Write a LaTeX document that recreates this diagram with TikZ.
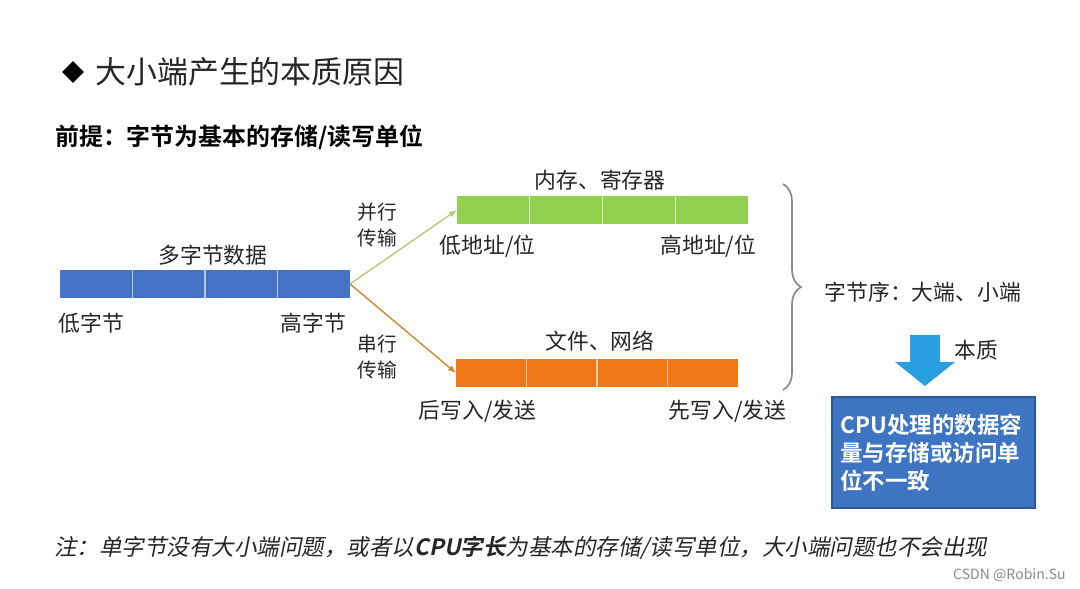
\documentclass[tikz,border=0pt]{standalone}
\usepackage{fontspec}
\setmainfont{Noto Sans CJK SC}[BoldFont={Noto Sans CJK SC Bold}]
\newfontfamily\notefont{Noto Sans CJK SC}[FakeSlant=0.2,BoldFont={Noto Sans CJK SC Bold},BoldFeatures={FakeSlant=0.2}]
\usetikzlibrary{arrows.meta,positioning,shapes.geometric,decorations.pathreplacing}
\definecolor{EndianBlue}{HTML}{4472C4}
\definecolor{EndianGreen}{HTML}{92D050}
\definecolor{EndianOrange}{HTML}{F07818}
\definecolor{EndianSky}{HTML}{2A9FE0}
\definecolor{EndianBox}{HTML}{3E75C2}
\definecolor{EndianText}{HTML}{262626}
\definecolor{EndianGray}{HTML}{8A8A8A}
\definecolor{GreenLink}{HTML}{B4CB78}
\definecolor{OrangeLink}{HTML}{D08A2E}
\tikzset{
  >=Latex,
  cell/.style={minimum height=0.7cm,inner sep=0pt,outer sep=0pt},
  bluecell/.style={cell,minimum width=1.8125cm,fill=EndianBlue},
  greencell/.style={cell,minimum width=1.819cm,fill=EndianGreen},
  orangecell/.style={cell,minimum width=1.7625cm,fill=EndianOrange},
  divider/.style={line width=1pt},
  txt/.style={font=\fontsize{15.5}{18}\selectfont,text=EndianText,inner sep=1pt},
  sidetxt/.style={font=\fontsize{14}{18.5}\selectfont,text=EndianText,align=center,inner sep=1pt},
  link/.style={-{Latex[length=2mm,width=1.6mm]},line width=1pt},
  essbox/.style={fill=EndianBox,draw=EndianBox!75!black,line width=0.8pt,minimum width=5.075cm,
    minimum height=2.775cm,text width=4.65cm,align=left,text=white,
    font=\fontsize{16}{20}\selectfont\bfseries},
  notetxt/.style={font=\notefont\fontsize{16}{20}\selectfont,text=EndianText,inner sep=0pt}
}
\begin{document}
\begin{tikzpicture}[x=0.025cm,y=-0.025cm]
  \useasboundingbox[fill=white] (0,0) rectangle (1080,589);

  % title
  \node[diamond,fill=black,inner sep=0pt,minimum size=0.55cm] (bullet) at (73,72) {};
  \node[anchor=west,font=\fontsize{22}{26}\selectfont,text=EndianText,inner sep=0pt] (title) at (95,72) {大小端产生的本质原因};
  \node[anchor=west,font=\fontsize{17}{20}\selectfont\bfseries,text=black,inner sep=0pt] (premise) at (55,137) {前提：字节为基本的存储/读写单位};

  % multi-byte data
  \foreach \i in {1,...,4}
    \node[bluecell] (byte\i) at ({60+72.5*(\i-0.5)},284) {};
  \foreach \i in {1,...,3}
    \draw[divider,draw=EndianBlue!40] (byte\i.north east) -- (byte\i.south east);
  \node[txt] (multibyte) at (213,255) {多字节数据};
  \node[txt,anchor=west] (lowbyte) at (57,323) {低字节};
  \node[txt,anchor=east] (highbyte) at (348,323) {高字节};

  % memory / register
  \foreach \i in {1,...,4}
    \node[greencell] (mem\i) at ({457+72.75*(\i-0.5)},210) {};
  \foreach \i in {1,...,3}
    \draw[divider,draw=EndianGreen!35] (mem\i.north east) -- (mem\i.south east);
  \node[txt] (memtitle) at (600,180) {内存、寄存器};
  \node[txt,anchor=west] (lowaddr) at (438,246) {低地址/位};
  \node[txt,anchor=east] (highaddr) at (758,246) {高地址/位};

  % file / network
  \foreach \i in {1,...,4}
    \node[orangecell] (net\i) at ({456+70.5*(\i-0.5)},373) {};
  \foreach \i in {1,...,3}
    \draw[divider,draw=EndianOrange!40] (net\i.north east) -- (net\i.south east);
  \node[txt] (nettitle) at (600,341) {文件、网络};
  \node[txt,anchor=west] (sendlast) at (417,411) {后写入/发送};
  \node[txt,anchor=east] (sendfirst) at (788,411) {先写入/发送};

  % transfer
  \draw[link,draw=GreenLink] (byte4.east) -- (mem1.west);
  \draw[link,draw=OrangeLink] (byte4.east) -- (net1.west);
  \node[sidetxt] (parallel) at (377,225) {并行\\传输};
  \node[sidetxt] (serial) at (377,357) {串行\\传输};

  % byte order
  \coordinate (bracetop) at (783,184);
  \coordinate (bracebot) at (783,390);
  \draw[EndianGray,line width=1.2pt,decorate,decoration={brace,amplitude=0.45cm}] (bracetop) -- (bracebot);
  \node[txt,anchor=west] (byteorder) at (823,292) {字节序：大端、小端};

  % essence
  \fill[EndianSky] (910,335) -- (940,335) -- (940,362) -- (955,362) -- (925,386)
    -- (895,362) -- (910,362) -- cycle;
  \node[txt,anchor=west] (essence) at (953,350) {本质};
  \node[essbox] (cause) at (933.5,452.5) {CPU处理的数据容\\量与存储或访问单\\位不一致};

  % note
  \node[notetxt,anchor=west] (note) at (54,548) {注：单字节没有大小端问题，或者以\textbf{CPU字长}为基本的存储/读写单位，大小端问题也不会出现};
  \node[anchor=east,font=\fontsize{10}{12}\selectfont,text=EndianGray,inner sep=0pt] (mark) at (1066,575) {CSDN @Robin.Su};
\end{tikzpicture}
\end{document}
